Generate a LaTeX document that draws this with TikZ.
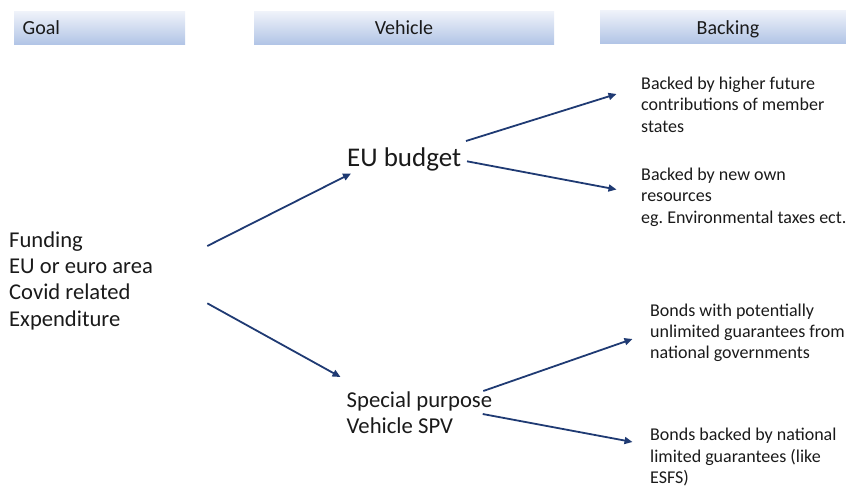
\documentclass[tikz,border=0pt]{standalone}
\usepackage{fontspec}
\setmainfont{Carlito}
\usetikzlibrary{arrows.meta}
\frenchspacing
\definecolor{navy}{HTML}{1F3A73}
\definecolor{hdtop}{HTML}{F0F3FA}
\definecolor{hdbot}{HTML}{B2C5E6}
\definecolor{txt}{HTML}{1A1A1A}
\tikzset{
  hdr/.style={top color=hdtop, bottom color=hdbot, draw=none},
  hdtext/.style={inner sep=0pt, anchor=base, text=txt, font=\fontsize{20}{24}\selectfont},
  goaltext/.style={inner sep=0pt, anchor=base west, align=left, text=txt, font=\fontsize{22.6}{26.3}\selectfont},
  vehtext/.style={inner sep=0pt, anchor=base west, align=left, text=txt, font=\fontsize{22.7}{26}\selectfont},
  backtext/.style={inner sep=0pt, anchor=base west, align=left, text=txt, font=\fontsize{18}{21.4}\selectfont},
  arr/.style={draw=navy, line width=1.8pt, -{Triangle[length=8pt,width=7pt]}}
}
\begin{document}
\begin{tikzpicture}[x=1pt,y=-1pt]
\useasboundingbox (0,0) rectangle (846,488);
% headers
\fill[hdr] (14,11) rectangle (185,44);
\fill[hdr] (254,11) rectangle (554,44);
\fill[hdr] (600,10) rectangle (846,43);
\node[hdtext, anchor=base west] (hgoal) at (22.5,34.3) {Goal};
\node[hdtext] (hveh) at (404,34.3) {Vehicle};
\node[hdtext] (hback) at (728,34) {Backing};
% goal (base anchor = last line's baseline)
\node[goaltext] (goal) at (9,326) {Funding\\EU or euro area\\Covid related\\Expenditure};
% vehicles
\node[inner sep=0pt, anchor=base west, text=txt, font=\fontsize{27}{31}\selectfont] (eub) at (347,166) {EU budget};
\node[vehtext] (spv) at (346.5,433.3) {Special purpose\\Vehicle SPV};
% backing
\node[backtext] (b1) at (641,132.1) {Backed by higher future\\contributions of member\\states};
\node[backtext] (b2) at (641,223.3) {Backed by new own\\resources\\eg. Environmental taxes ect.};
\node[backtext] (b3) at (650,358.8) {Bonds with potentially\\unlimited guarantees from\\national governments};
\node[backtext] (b4) at (650,483.5) {Bonds backed by national\\limited guarantees (like\\ESFS)};
% connector endpoints
\coordinate (goal-o1) at (207.3,246);
\coordinate (goal-o2) at (207.3,303.3);
\coordinate (eub-i) at (351,173.5);
\coordinate (spv-i) at (340.5,377);
\coordinate (eub-o1) at (466,141);
\coordinate (eub-o2) at (467,161.3);
\coordinate (spv-o1) at (483.3,391);
\coordinate (spv-o2) at (482.7,414);
\coordinate (b1-i) at (616.5,94);
\coordinate (b2-i) at (616.5,189.5);
\coordinate (b3-i) at (632.5,339);
\coordinate (b4-i) at (632.5,442);
\draw[arr] (goal-o1) -- (eub-i);
\draw[arr] (goal-o2) -- (spv-i);
\draw[arr] (eub-o1) -- (b1-i);
\draw[arr] (eub-o2) -- (b2-i);
\draw[arr] (spv-o1) -- (b3-i);
\draw[arr] (spv-o2) -- (b4-i);
\end{tikzpicture}
\end{document}
